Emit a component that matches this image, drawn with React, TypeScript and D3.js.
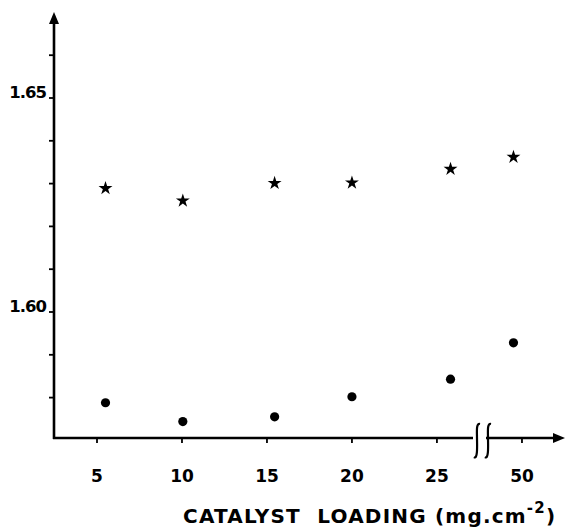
import React from "react";
import * as d3 from "d3";

// Catalyst loading (mg.cm^-2) of each measured electrode
const loadings = [5.5, 10.05, 15.45, 20.0, 25.8, 49.5];
// Upper series (stars)
const starValues = [1.6289, 1.626, 1.6301, 1.6302, 1.6334, 1.6362];
// Lower series (filled circles)
const dotValues = [1.5788, 1.5744, 1.5755, 1.5802, 1.5843, 1.5928];

const xTickValues = [5, 10, 15, 20, 25, 50];
const yTickValues = [1.58, 1.59, 1.6, 1.61, 1.62, 1.63, 1.64, 1.65, 1.66];
const yLabelValues = [1.6, 1.65];

const W = 567;
const H = 529;
const axisX = 54;
const axisY = 438;
const topY = 12;
const rightX = 565;
const breakLeft = 475;
const breakRight = 490;

export default function App() {
  // y scale: 0.01 per ~42.8 px
  const y = d3.scaleLinear().domain([1.6, 1.65]).range([312, 98]);

  // broken x axis: 2.5..27.2 on the left segment, 48.1..52.5 on the right
  const x = d3
    .scaleLinear()
    .domain([2.47, 27.24, 48.12, 52.53])
    .range([axisX, breakLeft, breakRight, rightX]);

  const star = d3.symbol().type(d3.symbolStar).size(60)();

  const fontFam = "'DejaVu Sans', sans-serif";

  // integral-shaped break marks on the x axis
  const breakMark = (cx: number) =>
    `M ${cx - 3} ${axisY + 19} C ${cx + 1} ${axisY + 22}, ${cx} ${axisY + 6}, ${cx} ${axisY}` +
    ` S ${cx - 1} ${axisY - 15}, ${cx + 3} ${axisY - 14}`;

  return (
    <svg
      width={W}
      height={H}
      style={{ position: "absolute", left: 0, top: 0, background: "#fff" }}
    >
      {/* axes */}
      <line x1={axisX} y1={axisY + 1} x2={axisX} y2={topY + 8} stroke="#000" strokeWidth={2.6} />
      <path d={`M ${axisX} ${topY} L ${axisX - 5} ${topY + 12} L ${axisX + 5} ${topY + 12} Z`} fill="#000" />
      <line x1={axisX - 1} y1={axisY} x2={breakLeft - 2} y2={axisY} stroke="#000" strokeWidth={2.6} />
      <line x1={breakRight - 4} y1={axisY} x2={rightX - 8} y2={axisY} stroke="#000" strokeWidth={2.6} />
      <path d={`M ${rightX} ${axisY} L ${rightX - 12} ${axisY - 5} L ${rightX - 12} ${axisY + 5} Z`} fill="#000" />
      <path d={breakMark(477)} fill="none" stroke="#000" strokeWidth={2.2} />
      <path d={breakMark(488)} fill="none" stroke="#000" strokeWidth={2.2} />

      {/* y ticks */}
      {yTickValues.map((v) => (
        <line key={v} x1={axisX - 5} x2={axisX} y1={y(v)} y2={y(v)} stroke="#000" strokeWidth={1.8} />
      ))}
      {yLabelValues.map((v) => (
        <text
          key={v}
          x={46}
          y={y(v)}
          textAnchor="end"
          fontFamily={fontFam}
          fontWeight="bold"
          fontSize={16.5}
          letterSpacing={-1}
        >
          {v.toFixed(2)}
        </text>
      ))}

      {/* x ticks */}
      {xTickValues.map((v) => (
        <g key={v}>
          <line x1={x(v)} x2={x(v)} y1={axisY} y2={axisY + 5} stroke="#000" strokeWidth={1.8} />
          <text
            x={x(v)}
            y={482}
            textAnchor="middle"
            fontFamily={fontFam}
            fontWeight="bold"
            fontSize={17}
          >
            {v}
          </text>
        </g>
      ))}

      {/* axis title */}
      <text x={183} y={523} fontFamily={fontFam} fontWeight="bold" fontSize={20} letterSpacing={1.2}>
        CATALYST{"\u00a0\u00a0"}LOADING{"\u00a0"}(mg.cm
        <tspan dy={-10} fontSize={15}>-2</tspan>
        <tspan dy={10}>)</tspan>
      </text>

      {/* data */}
      {loadings.map((l, i) => (
        <path key={"s" + i} d={star} transform={`translate(${x(l)},${y(starValues[i])})`} fill="#000" />
      ))}
      {loadings.map((l, i) => (
        <circle key={"d" + i} cx={x(l)} cy={y(dotValues[i])} r={4.6} fill="#000" />
      ))}
    </svg>
  );
}
